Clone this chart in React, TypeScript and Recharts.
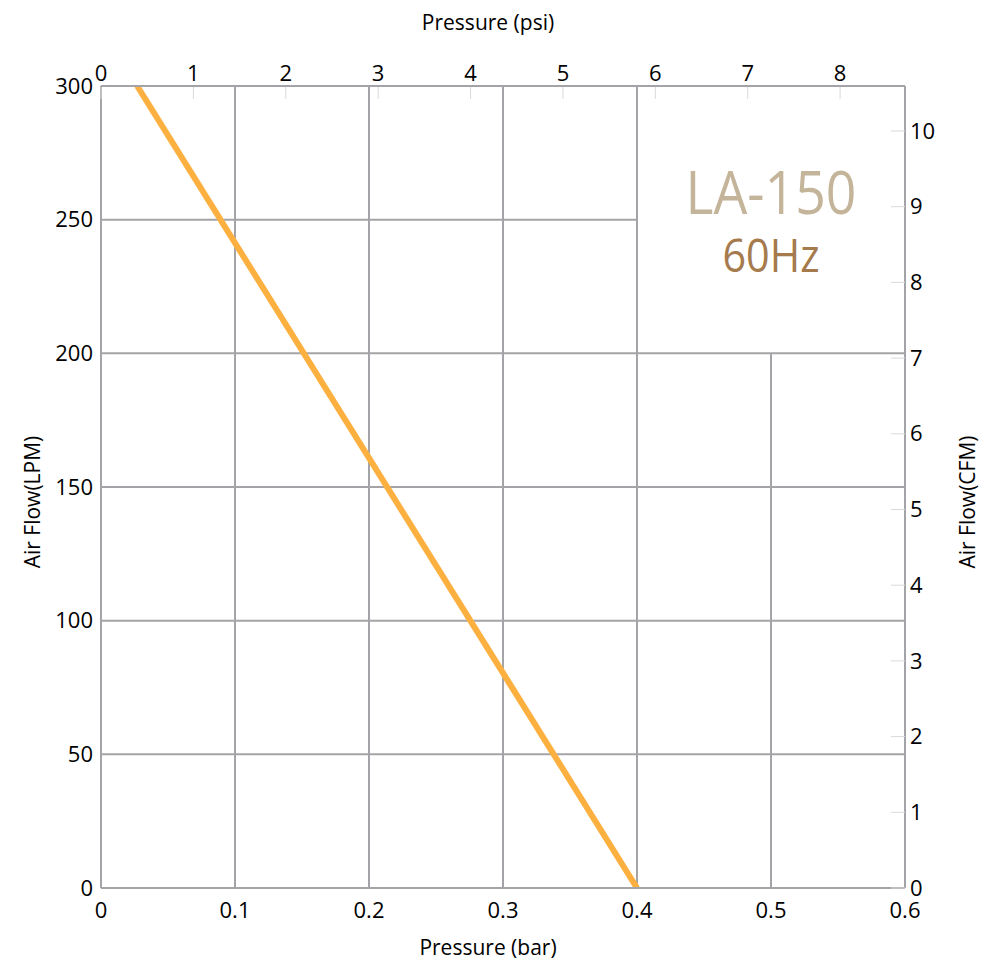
import { LineChart, Line, XAxis, YAxis, ReferenceLine, ReferenceArea } from 'recharts';

// performance curve, pressure (bar) vs air flow (LPM)
const pressureBar = [0.027, 0.4];
const airFlowLpm = [300, 0];

const barTicks = [0, 0.1, 0.2, 0.3, 0.4, 0.5, 0.6];
const lpmTicks = [0, 50, 100, 150, 200, 250, 300];
const psiTicks = [0, 1, 2, 3, 4, 5, 6, 7, 8];
const cfmTicks = [0, 1, 2, 3, 4, 5, 6, 7, 8, 9, 10];

// grid lines (the top-right corner is left open for the model name)
const fullVerticalGrid = [0.1, 0.2, 0.3, 0.4];
const shortVerticalGrid = [{ bar: 0.5, upTo: 200 }];
const fullHorizontalGrid = [50, 100, 150, 200];
const shortHorizontalGrid = [{ lpm: 250, upTo: 0.4 }];

const modelName = 'LA-150';
const frequency = '60Hz';

const PSI_PER_BAR = 14.5038;
const LPM_PER_CFM = 28.3168;

const GRID = '#a4a4a8';
const TICK_MARK = '#d9d9d9';
const FONT = "'Open Sans', sans-serif";

const curve = pressureBar.map((bar, i) => ({ bar, lpm: airFlowLpm[i] }));

const TopTick = ({ x, y, payload }: any) => (
    <g>
        <line x1={x} x2={x} y1={y + 6} y2={y + 18} stroke={TICK_MARK} strokeWidth={1} />
        <text x={x} y={y} textAnchor="middle" fontSize={22} fill="#000">{payload.value}</text>
    </g>
);

const RightTick = ({ x, y, payload }: any) => (
    <g>
        <line x1={x - 19} x2={x - 5} y1={y} y2={y} stroke={TICK_MARK} strokeWidth={1} />
        <text x={x} y={y} dy="0.35em" textAnchor="start" fontSize={22} fill="#000">{payload.value}</text>
    </g>
);

const ModelLabel = ({ viewBox }: any) => {
    const cx = viewBox.x + viewBox.width / 2;
    const cy = viewBox.y + viewBox.height / 2;
    return (
        <g>
            <text x={cx} y={cy - 6} textAnchor="middle" fontSize={60} fill="#c4b59a"
                textLength={171} lengthAdjust="spacingAndGlyphs">{modelName}</text>
            <text x={cx} y={cy + 52} textAnchor="middle" fontSize={46} fill="#a57a4c"
                textLength={97} lengthAdjust="spacingAndGlyphs">{frequency}</text>
        </g>
    );
};

const axisLine = { stroke: GRID, strokeWidth: 2 };

const App = () => {
    return (
        <div style={{ position: 'absolute', left: 0, top: 0, fontFamily: FONT, background: '#fff' }}>
            <LineChart width={1000} height={976} data={curve}
                margin={{ top: 14, right: 35, bottom: 16, left: 41 }}>
                <XAxis xAxisId="bar" dataKey="bar" type="number" domain={[0, 0.6]} ticks={barTicks}
                    allowDataOverflow height={72} tickSize={0} tickMargin={14} axisLine={axisLine}
                    tick={{ fontSize: 22, fill: '#000' }}
                    label={{
                        content: ({ viewBox }: any) => (
                            <text x={viewBox.x + viewBox.width / 2 - 15} y={955} textAnchor="middle" fontSize={21} fill="#000">
                                Pressure (bar)
                            </text>
                        ),
                    }} />
                <XAxis xAxisId="psi" orientation="top" type="number"
                    dataKey={(d: any) => d.bar * PSI_PER_BAR}
                    domain={[0, 0.6 * PSI_PER_BAR]} ticks={psiTicks}
                    allowDataOverflow height={72} tickSize={0} tickMargin={5} axisLine={axisLine}
                    tick={<TopTick />}
                    label={{
                        content: ({ viewBox }: any) => (
                            <text x={viewBox.x + viewBox.width / 2 - 15} y={30} textAnchor="middle" fontSize={21} fill="#000">
                                Pressure (psi)
                            </text>
                        ),
                    }} />
                <YAxis yAxisId="lpm" type="number" domain={[0, 300]} ticks={lpmTicks}
                    allowDataOverflow width={60} tickSize={0} tickMargin={8} axisLine={axisLine}
                    tick={{ fontSize: 22, fill: '#000' }}
                    label={{
                        content: () => (
                            <text x={40} y={502} transform="rotate(-90, 40, 502)" textAnchor="middle" fontSize={21} fill="#000">
                                Air Flow(LPM)
                            </text>
                        ),
                    }} />
                <YAxis yAxisId="cfm" orientation="right" type="number" domain={[0, 300 / LPM_PER_CFM]} ticks={cfmTicks}
                    allowDataOverflow width={60} tickSize={0} tickMargin={5} axisLine={axisLine}
                    tick={<RightTick />}
                    label={{
                        content: () => (
                            <text x={975} y={502} transform="rotate(-90, 975, 502)" textAnchor="middle" fontSize={21} fill="#000">
                                Air Flow(CFM)
                            </text>
                        ),
                    }} />

                {fullVerticalGrid.map((bar) => (
                    <ReferenceLine key={`v-${bar}`} xAxisId="bar" yAxisId="lpm"
                        segment={[{ x: bar, y: 0 }, { x: bar, y: 300 }]} stroke={GRID} strokeWidth={2} />
                ))}
                {shortVerticalGrid.map((g) => (
                    <ReferenceLine key={`sv-${g.bar}`} xAxisId="bar" yAxisId="lpm"
                        segment={[{ x: g.bar, y: 0 }, { x: g.bar, y: g.upTo }]} stroke={GRID} strokeWidth={2} />
                ))}
                {fullHorizontalGrid.map((lpm) => (
                    <ReferenceLine key={`h-${lpm}`} xAxisId="bar" yAxisId="lpm"
                        segment={[{ x: 0, y: lpm }, { x: 0.6, y: lpm }]} stroke={GRID} strokeWidth={2} />
                ))}
                {shortHorizontalGrid.map((g) => (
                    <ReferenceLine key={`sh-${g.lpm}`} xAxisId="bar" yAxisId="lpm"
                        segment={[{ x: 0, y: g.lpm }, { x: g.upTo, y: g.lpm }]} stroke={GRID} strokeWidth={2} />
                ))}

                <ReferenceArea xAxisId="bar" yAxisId="lpm" x1={0.4} x2={0.6} y1={200} y2={300}
                    fill="none" stroke="none" label={<ModelLabel />} />

                <Line xAxisId="bar" yAxisId="lpm" dataKey="lpm" stroke="#fbb040" strokeWidth={6}
                    dot={false} activeDot={false} isAnimationActive={false} />
            </LineChart>
        </div>
    );
};

export default App;
